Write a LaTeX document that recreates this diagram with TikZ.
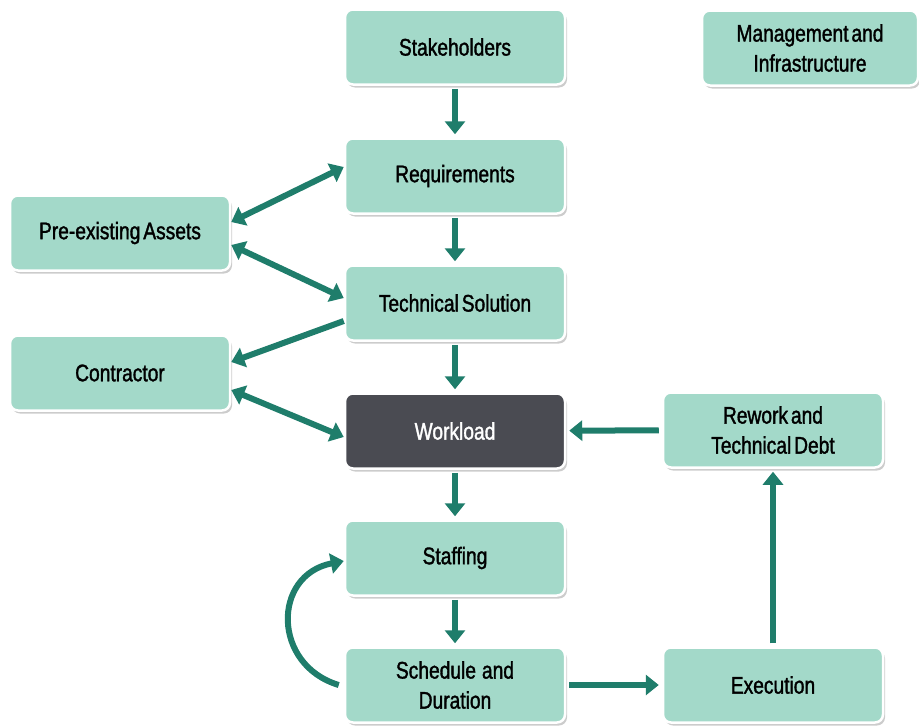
\documentclass[tikz,border=0pt]{standalone}
\usepackage{fontspec}
\setmainfont{Liberation Sans}[FakeStretch=0.8,FakeBold=1.4,WordSpace=0.55]
\usetikzlibrary{shadows,arrows.meta}
\definecolor{boxfill}{HTML}{A3D9C9}
\definecolor{arrcol}{HTML}{1F7D6B}
\definecolor{workfill}{HTML}{4A4B52}
\tikzset{
  box/.style={draw=white, line width=2.5pt, fill=boxfill, rounded corners=8pt,
    minimum width=220pt, minimum height=75pt, align=center, inner sep=2pt,
    font=\fontsize{24}{30}\selectfont, text=black,
    drop shadow={shadow xshift=2pt, shadow yshift=-3pt, opacity=0.4, fill=gray}},
  darkbox/.style={box, fill=workfill, text=white},
  arr/.style={draw=arrcol, line width=6pt, -{Triangle[width=20pt,length=13pt]}},
  darr/.style={draw=arrcol, line width=6pt, {Triangle[width=20pt,length=13pt]}-{Triangle[width=20pt,length=13pt]}},
  gap/.style={shorten <=3pt, shorten >=3pt}
}
\begin{document}
\begin{tikzpicture}[x=1pt,y=1pt]
\useasboundingbox (0,0) rectangle (919,-728);
\node[box] (sh) at (455,-47) {Stakeholders};
\node[box, minimum width=216pt] (mi) at (810,-48) {Management and\\Infrastructure};
\node[box] (req) at (455,-176) {Requirements};
\node[box] (pa) at (120,-233) {Pre-existing Assets};
\node[box] (ts) at (455,-303) {Technical Solution};
\node[box] (con) at (120,-373) {Contractor};
\node[darkbox] (work) at (455,-431) {Workload};
\node[box] (rw) at (773,-430) {Rework and\\Technical Debt};
\node[box] (st) at (455,-558) {Staffing};
\node[box] (sd) at (455,-685) {Schedule\hspace{6pt}and\\Duration};
\node[box] (ex) at (773,-685) {Execution};

\draw[arr,gap] (sh) -- (req);
\draw[arr,gap] (req) -- (ts);
\draw[arr,gap] (ts) -- (work);
\draw[arr,gap] (work) -- (st);
\draw[arr,gap] (st) -- (sd);
\draw[arr,gap] (rw) -- (work);
\draw[arr,gap] (ex) -- (rw);
\draw[arr,gap] (sd) -- (ex);

\draw[darr] ([yshift=9pt]req.west) -- ([yshift=11pt]pa.east);
\draw[darr] ([yshift=-12pt]pa.east) -- ([yshift=5pt]ts.west);
\draw[arr] ([yshift=-18pt]ts.west) -- ([yshift=11pt]con.east);
\draw[darr] ([yshift=-17pt]con.east) -- ([yshift=-6pt]work.west);

\draw[arr] ([xshift=-5pt]sd.west) .. controls (272,-665) and (272,-575) .. ([yshift=-3pt]st.west);
\end{tikzpicture}
\end{document}
